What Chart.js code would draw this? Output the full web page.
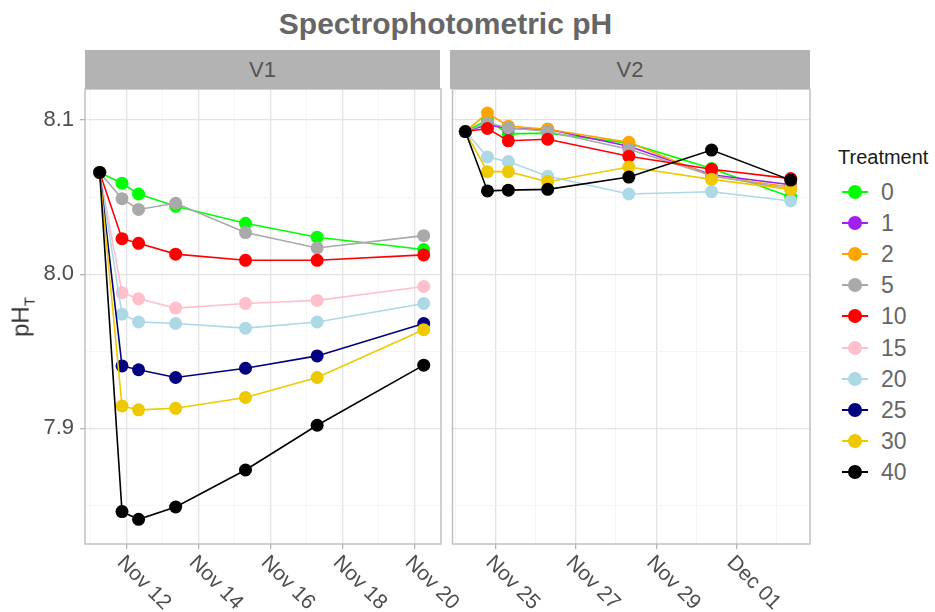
<!DOCTYPE html>
<html>
<head>
<meta charset="utf-8">
<script src="https://cdn.jsdelivr.net/npm/chart.js@4.4.1/dist/chart.umd.min.js"></script>
<style>
  body { margin: 0; width: 935px; height: 612px; background: #fff; position: relative; overflow: hidden;
         font-family: "Liberation Sans", Arial, sans-serif; }
  canvas { position: absolute; }
  #title { position: absolute; left: 0; width: 891px; top: 9px; line-height: 30px; text-align: center;
           font-weight: bold; font-size: 30px; color: #666; }
  .strip { position: absolute; top: 50px; height: 39px; line-height: 39px; background: #b3b3b3;
           text-align: center; font-size: 22px; color: #555; }
  #ylab { position: absolute; left: 22px; top: 317px; transform: translate(-50%, -50%) rotate(-90deg);
          font-size: 24px; color: #333; white-space: nowrap; }
  #ylab sub { font-size: 15px; }
  #legend { position: absolute; left: 838px; top: 146px; }
  #legend .ttl { font-size: 20px; color: #1a1a1a; height: 30px; }
  .item { position: absolute; left: 0; height: 24px; width: 100px; }
  .item .ln { position: absolute; left: 4px; top: 11px; width: 26px; height: 2px; }
  .item .dot { position: absolute; left: 10px; top: 5px; width: 14px; height: 14px; border-radius: 50%; }
  .item .lbl { position: absolute; left: 43px; top: -1px; font-size: 23px; color: #666; line-height: 26px; }
</style>
</head>
<body>
<div id="title">Spectrophotometric pH</div>
<canvas id="v1Chart" width="475" height="553" style="left:0;top:59px"></canvas>
<canvas id="v2Chart" width="380" height="553" style="left:446px;top:59px"></canvas>
<div class="strip" style="left:85px;width:355px">V1</div>
<div class="strip" style="left:450px;width:360px">V2</div>
<div id="ylab">pH<sub>T</sub></div>
<div id="legend"><div class="ttl">Treatment</div></div>
<script>
const treatments = ['0', '1', '2', '5', '10', '15', '20', '25', '30', '40'];
const colours = ['#00FF00', '#A020F0', '#FFA500', '#A9A9A9', '#FF0000',
                 '#FFC0CB', '#ADD8E6', '#000080', '#EEC900', '#000000'];

// sampling times as day of November (Dec 01 = 31)
const v1Days = [11.25, 11.87, 12.33, 13.36, 15.3, 17.29, 20.25];
const v2Days = [24.25, 24.8, 25.32, 26.3, 28.32, 30.38, 32.35];
const v1Ticks = [12, 14, 16, 18, 20];
const v2Ticks = [25, 27, 29, 31];
const yTicks = [7.9, 8.0, 8.1];

// V1 pH per treatment (null = not sampled)
const v1_0  = [8.066, 8.059, 8.052, 8.044, 8.033, 8.024, 8.016];
const v1_1  = null;
const v1_2  = null;
const v1_5  = [8.066, 8.049, 8.042, 8.046, 8.027, 8.017, 8.025];
const v1_10 = [8.066, 8.023, 8.020, 8.013, 8.009, 8.009, 8.0125];
const v1_15 = [8.066, 7.988, 7.984, 7.978, 7.981, 7.983, 7.992];
const v1_20 = [8.066, 7.974, 7.969, 7.968, 7.965, 7.969, 7.981];
const v1_25 = [8.066, 7.9405, 7.938, 7.933, 7.939, 7.947, 7.968];
const v1_30 = [8.066, 7.9145, 7.912, 7.913, 7.920, 7.933, 7.964];
const v1_40 = [8.066, 7.846, 7.841, 7.849, 7.873, 7.902, 7.941];

// V2 pH per treatment
const v2_0  = [8.0925, 8.100, 8.091, 8.0915, 8.085, 8.0685, 8.050];
const v2_1  = [8.0925, 8.097, 8.0945, 8.094, 8.083, 8.0645, 8.058];
const v2_2  = [8.0925, 8.1045, 8.096, 8.094, 8.0855, 8.0635, 8.0565];
const v2_5  = [8.0925, 8.098, 8.095, 8.0925, 8.081, 8.064, 8.055];
const v2_10 = [8.0925, 8.0945, 8.0865, 8.0875, 8.0765, 8.068, 8.062];
const v2_15 = null;
const v2_20 = [8.0925, 8.076, 8.073, 8.0635, 8.052, 8.0535, 8.0475];
const v2_25 = null;
const v2_30 = [8.0925, 8.0665, 8.0665, 8.060, 8.0695, 8.0615, 8.055];
const v2_40 = [8.0925, 8.054, 8.0545, 8.055, 8.063, 8.0805, 8.061];

const v1Series = [v1_0, v1_1, v1_2, v1_5, v1_10, v1_15, v1_20, v1_25, v1_30, v1_40];
const v2Series = [v2_0, v2_1, v2_2, v2_5, v2_10, v2_15, v2_20, v2_25, v2_30, v2_40];

const FONT = '"Liberation Sans", Arial, sans-serif';

function dayLabel(d) {
  return d > 30 ? 'Dec ' + String(d - 30).padStart(2, '0') : 'Nov ' + d;
}

function isMajorY(v) {
  return Math.abs(v * 10 - Math.round(v * 10)) < 1e-6;
}

function makeDatasets(days, series) {
  return series.map((vals, i) => ({
    label: treatments[i],
    data: vals ? vals.map((v, k) => ({ x: days[k], y: v })) : [],
    borderColor: colours[i],
    backgroundColor: colours[i],
    pointBackgroundColor: colours[i],
    borderWidth: 1.6,
    pointRadius: 6.5,
    pointBorderWidth: 0,
    pointHoverRadius: 6.5,
    tension: 0,
    clip: false,
    order: -i   // later treatments on top, like ggplot
  }));
}

// panel border + rotated date labels
const panelDeco = {
  id: 'panelDeco',
  afterDraw(chart, args, opts) {
    const { ctx, chartArea: a } = chart;
    const xs = chart.scales.x;
    ctx.save();
    ctx.strokeStyle = '#bdbdbd';
    ctx.lineWidth = 1.4;
    ctx.strokeRect(a.left, a.top, a.right - a.left, a.bottom - a.top);
    ctx.font = '21px ' + FONT;
    ctx.fillStyle = '#4d4d4d';
    ctx.textAlign = 'left';
    ctx.textBaseline = 'top';
    opts.ticks.forEach(d => {
      const px = xs.getPixelForValue(d);
      ctx.save();
      ctx.translate(px + 1, a.bottom + 8);
      ctx.rotate(Math.PI / 4);
      ctx.fillText(dayLabel(d), 0, 0);
      ctx.restore();
    });
    ctx.restore();
  }
};

function createPanel(id, days, series, xMin, xMax, majorX, yLabels, axisWidth, padRight) {
  const ctx = document.getElementById(id).getContext('2d');
  return new Chart(ctx, {
    type: 'line',
    data: { datasets: makeDatasets(days, series) },
    plugins: [panelDeco],
    options: {
      responsive: false,
      animation: false,
      layout: { padding: { top: 30, right: padRight, bottom: 0, left: 0 } },
      plugins: {
        legend: { display: false },
        tooltip: { enabled: false },
        panelDeco: { ticks: majorX }
      },
      scales: {
        x: {
          type: 'linear',
          min: xMin,
          max: xMax,
          afterFit: s => { s.height = 68; },
          border: { display: false },
          grid: {
            color: c => majorX.includes(Math.round(c.tick.value)) ? '#e3e3e3' : '#f2f2f2',
            lineWidth: c => majorX.includes(Math.round(c.tick.value)) ? 1.3 : 0.8,
            tickColor: c => majorX.includes(Math.round(c.tick.value)) ? '#b3b3b3' : 'rgba(0,0,0,0)',
            tickLength: 5,
            drawTicks: true
          },
          ticks: { display: false, stepSize: 1, includeBounds: false, autoSkip: false }
        },
        y: {
          type: 'linear',
          min: 7.825,
          max: 8.1201,
          afterFit: s => { s.width = axisWidth; },
          border: { display: false },
          grid: {
            color: c => isMajorY(c.tick.value) ? '#e3e3e3' : '#f2f2f2',
            lineWidth: c => isMajorY(c.tick.value) ? 1.3 : 0.8,
            tickColor: c => yLabels && isMajorY(c.tick.value) ? '#b3b3b3' : 'rgba(0,0,0,0)',
            tickLength: 5,
            drawTicks: !!yLabels
          },
          ticks: {
            display: !!yLabels,
            stepSize: 0.05,
            includeBounds: false,
            autoSkip: false,
            padding: 6,
            color: '#4d4d4d',
            font: { family: FONT, size: 22 },
            callback: v => yTicks.some(t => Math.abs(t - v) < 1e-6) ? v.toFixed(1) : ''
          }
        }
      }
    }
  });
}

function buildLegend() {
  const box = document.getElementById('legend');
  treatments.forEach((t, i) => {
    const item = document.createElement('div');
    item.className = 'item';
    item.style.top = (34 + i * 31.1) + 'px';
    item.innerHTML = '<div class="ln" style="background:' + colours[i] + '"></div>' +
                     '<div class="dot" style="background:' + colours[i] + '"></div>' +
                     '<div class="lbl">' + t + '</div>';
    box.appendChild(item);
  });
}

createPanel('v1Chart', v1Days, v1Series, 10.842, 20.73, v1Ticks, true, 85, 34);
createPanel('v2Chart', v2Days, v2Series, 23.93, 32.83, v2Ticks, false, 6, 16);
buildLegend();
</script>
</body>
</html>
